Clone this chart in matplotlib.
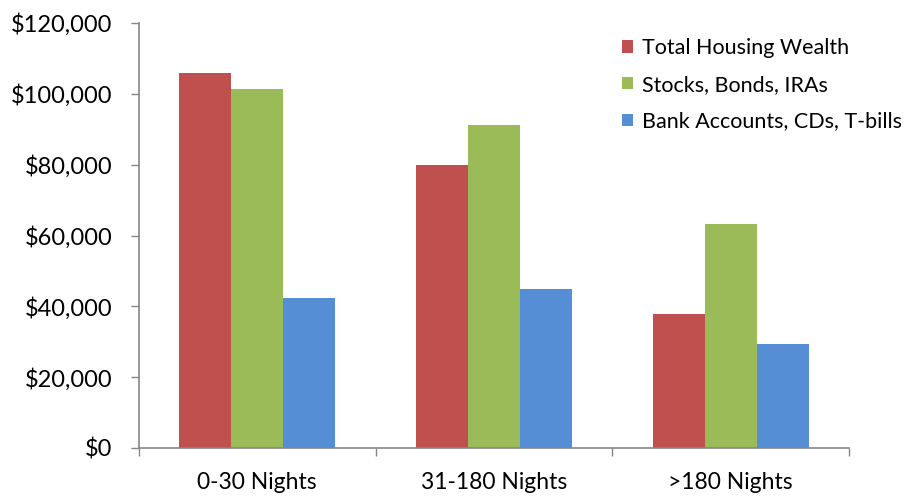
import matplotlib
matplotlib.use("Agg")
import matplotlib.pyplot as plt
import numpy as np
from matplotlib.ticker import FuncFormatter

categories = ["0-30 Nights", "31-180 Nights", ">180 Nights"]
series_names = ["Total Housing Wealth", "Stocks, Bonds, IRAs", "Bank Accounts, CDs, T-bills"]
housing = [105900, 79800, 37900]
stocks = [101500, 91300, 63200]
bank = [42300, 44800, 29400]
colors = ["#C0504D", "#9BBB59", "#558ED5"]
yticks = [0, 20000, 40000, 60000, 80000, 100000, 120000]

plt.rcParams['font.family'] = ['Lato', 'DejaVu Sans']

fig = plt.figure(figsize=(9.06, 4.96), dpi=100)
ax = fig.add_axes([0.1534, 0.0968, 0.7836, 0.8568])

x = np.arange(len(categories))
w = 0.22
for i, (vals, name, c) in enumerate(zip([housing, stocks, bank], series_names, colors)):
    ax.bar(x + (i - 1) * w, vals, width=w, color=c, label=name, edgecolor='none')

ax.set_xlim(-0.5, len(categories) - 0.5)
ax.set_ylim(0, 120000)
ax.set_yticks(yticks)
ax.yaxis.set_major_formatter(FuncFormatter(lambda v, p: "${:,.0f}".format(v)))

ax.set_xticks(x)
ax.set_xticklabels(categories)
ax.set_xticks(np.arange(len(categories) + 1) - 0.5, minor=True)
ax.tick_params(axis='x', which='major', length=0, pad=17, labelsize=16.5, colors='black')
ax.tick_params(axis='x', which='minor', length=6, width=1, color='#868686', direction='out')
ax.tick_params(axis='y', length=6, width=1, color='#868686', labelsize=17, pad=13)

for s in ['top', 'right']:
    ax.spines[s].set_visible(False)
for s in ['left', 'bottom']:
    ax.spines[s].set_color('#868686')
    ax.spines[s].set_linewidth(1.2)

leg = ax.legend(loc='upper left', bbox_to_anchor=(0.68, 0.965), frameon=False,
                fontsize=15.5, handlelength=0.52, handleheight=0.52, handletextpad=0.42,
                labelspacing=0.78, borderaxespad=0, borderpad=0)

fig.savefig("out.png", dpi=100)
